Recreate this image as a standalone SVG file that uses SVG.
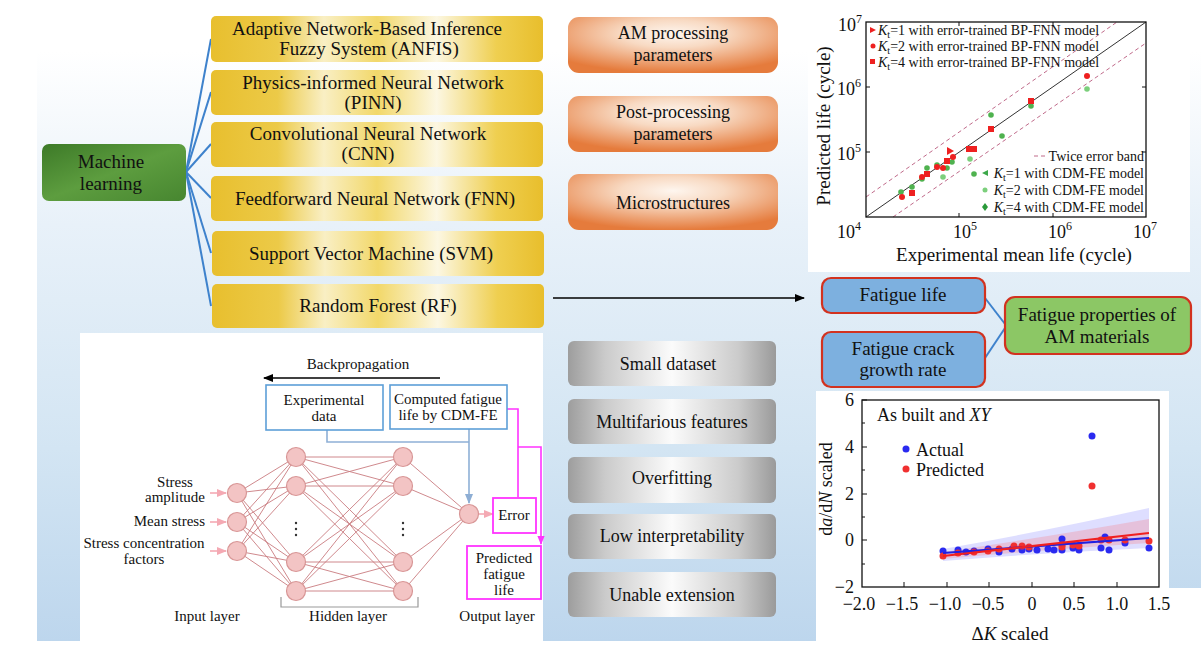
<svg xmlns="http://www.w3.org/2000/svg" width="1201" height="652" viewBox="0 0 1201 652">
<defs>
<linearGradient id="bg" x1="0" y1="0" x2="0" y2="1">
<stop offset="0" stop-color="#ffffff"/><stop offset="0.08" stop-color="#ffffff"/><stop offset="0.35" stop-color="#e8f1f9"/><stop offset="0.7" stop-color="#d3e5f3"/><stop offset="1" stop-color="#bdd6ed"/>
</linearGradient>
<linearGradient id="yel" x1="0" y1="0" x2="1" y2="0">
<stop offset="0" stop-color="#e8bf2e"/><stop offset="0.2" stop-color="#ecca48"/><stop offset="0.34" stop-color="#f9efc4"/><stop offset="0.5" stop-color="#f2d86a"/><stop offset="0.68" stop-color="#fcf7e2"/><stop offset="0.86" stop-color="#efcf50"/><stop offset="1" stop-color="#e8be2c"/>
</linearGradient>
<linearGradient id="grn" x1="0" y1="0" x2="1" y2="1">
<stop offset="0" stop-color="#3d7a28"/><stop offset="0.5" stop-color="#5d9d3f"/><stop offset="1" stop-color="#478630"/>
</linearGradient>
<radialGradient id="org" cx="0.5" cy="0.3" r="0.7">
<stop offset="0" stop-color="#fef6ef"/><stop offset="0.35" stop-color="#f8dac3"/><stop offset="1" stop-color="#e57b3c"/>
</radialGradient>
<linearGradient id="gry" x1="0" y1="0" x2="1" y2="0">
<stop offset="0" stop-color="#9d9d9d"/><stop offset="0.18" stop-color="#cbcbcb"/><stop offset="0.5" stop-color="#fbfbfb"/><stop offset="0.82" stop-color="#cbcbcb"/><stop offset="1" stop-color="#9a9a9a"/>
</linearGradient>
<marker id="ab" viewBox="0 0 10 10" refX="9" refY="5" markerWidth="10" markerHeight="10" markerUnits="userSpaceOnUse" orient="auto"><path d="M0,1 L10,5 L0,9 Z" fill="#000"/></marker>
<marker id="ap" viewBox="0 0 10 10" refX="9" refY="5" markerWidth="12" markerHeight="10" markerUnits="userSpaceOnUse" orient="auto"><path d="M0,1 L10,5 L0,9 Z" fill="#f4a9b3"/></marker>
<marker id="abl" viewBox="0 0 10 10" refX="9" refY="5" markerWidth="14" markerHeight="10" markerUnits="userSpaceOnUse" orient="auto"><path d="M0,1 L10,5 L0,9 Z" fill="#8eaed4"/></marker>
<marker id="am" viewBox="0 0 10 10" refX="9" refY="5" markerWidth="12" markerHeight="9" markerUnits="userSpaceOnUse" orient="auto"><path d="M0,1 L10,5 L0,9 Z" fill="#ff33ff"/></marker>
<style>
text{font-family:"Liberation Serif","Times New Roman",serif;fill:#111}
.t19{font-size:19px}
.t18{font-size:18px}
.t15{font-size:15px}
.t14{font-size:14px}
.mid{text-anchor:middle}
.end{text-anchor:end}
.ybox{fill:url(#yel)}
.obox{fill:url(#org)}
.gbox{fill:url(#gry)}
.fbox{fill:#7db0df;stroke:#d2321f;stroke-width:2.2}
.nn line{stroke:#c97c80;stroke-width:0.9}
.node{fill:#f3c4c4;stroke:#d89696;stroke-width:1.2}
.bl{fill:none;stroke:#8eb0d6;stroke-width:1.6}
.mg{fill:none;stroke:#ff33ff;stroke-width:1.6}
.frame{fill:none;stroke:#111;stroke-width:1.3}
.tick{stroke:#111;stroke-width:1}
</style>
</defs>

<!-- background -->
<rect x="37" y="0" width="1164" height="641" fill="url(#bg)"/>
<rect x="808" y="0" width="382" height="272" fill="#fff"/>
<rect x="80" y="333" width="463" height="308" fill="#fff"/>
<rect x="816" y="391" width="353" height="261" fill="#fff"/>
<rect x="1169" y="588" width="32" height="64" fill="#fff"/>

<!-- connectors -->
<g id="connectors">
<g stroke="#3e82cc" stroke-width="2" fill="none">
<line x1="186" y1="172" x2="211" y2="39"/>
<line x1="186" y1="172" x2="211" y2="92"/>
<line x1="186" y1="172" x2="211" y2="144"/>
<line x1="186" y1="172" x2="211" y2="198"/>
<line x1="186" y1="172" x2="211" y2="253"/>
<line x1="186" y1="172" x2="211" y2="306"/>
<line x1="985" y1="298" x2="1005" y2="324"/>
<line x1="985" y1="358" x2="1005" y2="328"/>
</g>
<line x1="553" y1="298" x2="804" y2="298" stroke="#000" stroke-width="1.4" marker-end="url(#ab)"/>
</g>

<!-- machine learning -->
<g id="ml">
<rect x="42" y="144" width="144" height="57" rx="7" fill="url(#grn)"/>
<text class="t19 mid" x="111" y="168">Machine</text>
<text class="t19 mid" x="111" y="190">learning</text>
</g>
<g id="anfis"><rect class="ybox" x="211" y="16" width="332" height="46" rx="5"/>
<text class="t19 mid" x="367" y="35">Adaptive Network-Based Inference</text>
<text class="t19 mid" x="369" y="55">Fuzzy System (ANFIS)</text></g>
<g id="pinn"><rect class="ybox" x="211" y="70" width="332" height="45" rx="5"/>
<text class="t19 mid" x="373" y="89">Physics-informed Neural Network</text>
<text class="t19 mid" x="373" y="109">(PINN)</text></g>
<g id="cnn"><rect class="ybox" x="211" y="122" width="332" height="45" rx="5"/>
<text class="t19 mid" x="368" y="140">Convolutional Neural Network</text>
<text class="t19 mid" x="368" y="160">(CNN)</text></g>
<g id="fnn"><rect class="ybox" x="211" y="176" width="332" height="45" rx="5"/>
<text class="t19 mid" x="375" y="205">Feedforward Neural Network (FNN)</text></g>
<g id="svm"><rect class="ybox" x="212" y="231" width="332" height="45" rx="5"/>
<text class="t19 mid" x="371" y="260">Support Vector Machine (SVM)</text></g>
<g id="rf"><rect class="ybox" x="212" y="284" width="332" height="44" rx="5"/>
<text class="t19 mid" x="378" y="312">Random Forest (RF)</text></g>

<!-- orange -->
<g id="am-proc"><rect class="obox" x="568" y="17" width="210" height="56" rx="11"/>
<text class="t18 mid" x="673" y="39">AM processing</text>
<text class="t18 mid" x="673" y="61">parameters</text></g>
<g id="post-proc"><rect class="obox" x="568" y="96" width="210" height="56" rx="11"/>
<text class="t18 mid" x="673" y="118">Post-processing</text>
<text class="t18 mid" x="673" y="140">parameters</text></g>
<g id="micro"><rect class="obox" x="568" y="174" width="210" height="56" rx="11"/>
<text class="t18 mid" x="673" y="209">Microstructures</text></g>

<!-- gray -->
<g id="small"><rect class="gbox" x="568" y="341" width="208" height="45" rx="6"/>
<text class="t18 mid" x="668" y="370">Small dataset</text></g>
<g id="multi"><rect class="gbox" x="568" y="399" width="208" height="45" rx="6"/>
<text class="t18 mid" x="672" y="428">Multifarious features</text></g>
<g id="overfit"><rect class="gbox" x="568" y="457" width="208" height="46" rx="6"/>
<text class="t18 mid" x="672" y="484">Overfitting</text></g>
<g id="lowint"><rect class="gbox" x="568" y="514" width="208" height="45" rx="6"/>
<text class="t18 mid" x="672" y="542">Low interpretability</text></g>
<g id="unable"><rect class="gbox" x="568" y="572" width="208" height="45" rx="6"/>
<text class="t18 mid" x="672" y="601">Unable extension</text></g>

<!-- fatigue -->
<g id="flife"><rect class="fbox" x="822" y="278" width="163" height="35" rx="9"/>
<text class="t19 mid" x="903" y="301">Fatigue life</text></g>
<g id="fcgr"><rect class="fbox" x="822" y="332" width="163" height="55" rx="9"/>
<text class="t19 mid" x="903" y="355">Fatigue crack</text>
<text class="t19 mid" x="903" y="376">growth rate</text></g>
<g id="fprop"><rect x="1005" y="297" width="186" height="57" rx="10" fill="#8cc765" stroke="#d2321f" stroke-width="2.2"/>
<text class="t19 mid" x="1097" y="321">Fatigue properties of</text>
<text class="t19 mid" x="1097" y="343">AM materials</text></g>

<!-- plot 1 -->
<g id="plot1">
<line x1="866" y1="217" x2="1146" y2="22" stroke="#333" stroke-width="1"/>
<g stroke="#c06a8a" stroke-width="1" stroke-dasharray="4,3">
<line x1="866" y1="197" x2="1117" y2="22"/>
<line x1="893" y1="217" x2="1146" y2="43"/>
</g>
<rect class="frame" x="866" y="22" width="280" height="195"/>
<g class="tick">
<line x1="866" y1="87" x2="870" y2="87"/><line x1="866" y1="152" x2="870" y2="152"/>
<line x1="1146" y1="87" x2="1142" y2="87"/><line x1="1146" y1="152" x2="1142" y2="152"/>
<line x1="959" y1="217" x2="959" y2="213"/><line x1="1053" y1="217" x2="1053" y2="213"/>
<line x1="959" y1="22" x2="959" y2="26"/><line x1="1053" y1="22" x2="1053" y2="26"/>
</g>
<!-- green data -->
<g fill="#4fb24f">
<circle cx="901" cy="192" r="2.8"/><circle cx="912" cy="187" r="2.8"/><circle cx="922" cy="179" r="2.8"/>
<circle cx="927" cy="168" r="2.8"/><circle cx="937" cy="165" r="2.8"/><circle cx="943" cy="177" r="2.8" fill="#7ccf7c"/>
<circle cx="947" cy="168" r="2.8"/><circle cx="952" cy="162" r="2.8"/><circle cx="970" cy="159" r="2.8" fill="#7ccf7c"/>
<circle cx="974" cy="174" r="2.8"/><circle cx="991" cy="115" r="2.8"/><circle cx="1002" cy="136" r="2.8"/>
<circle cx="1031" cy="106" r="2.8"/><circle cx="1087" cy="89" r="2.8" fill="#7ccf7c"/>
</g>
<!-- red data -->
<g fill="#ee2020">
<circle cx="902" cy="197" r="3"/><rect x="909" y="190" width="6" height="6"/><circle cx="922" cy="177" r="3"/>
<rect x="924" y="171" width="6" height="6"/><circle cx="937" cy="167" r="3"/><circle cx="943" cy="168" r="3"/>
<rect x="944" y="158" width="6" height="6"/><path d="M947,147 L954,151 L947,155 Z"/><circle cx="953" cy="157" r="3"/>
<rect x="966" y="146" width="6" height="6"/><rect x="971" y="146" width="6" height="6"/><rect x="988" y="126" width="6" height="6"/>
<rect x="1028" y="98" width="6" height="6"/><circle cx="1087" cy="76" r="3"/>
</g>
<!-- legend -->
<path d="M870,27 L876,30 L870,33 Z" fill="#ee2020"/>
<circle cx="873" cy="46" r="2.5" fill="#ee2020"/>
<rect x="870" y="59" width="5" height="5" fill="#ee2020"/>
<text class="t14" x="878" y="35"><tspan font-style="italic">K</tspan><tspan font-size="10" dy="3">t</tspan><tspan dy="-3">=1 with error-trained BP-FNN model</tspan></text>
<text class="t14" x="878" y="51"><tspan font-style="italic">K</tspan><tspan font-size="10" dy="3">t</tspan><tspan dy="-3">=2 with error-trained BP-FNN model</tspan></text>
<text class="t14" x="878" y="67"><tspan font-style="italic">K</tspan><tspan font-size="10" dy="3">t</tspan><tspan dy="-3">=4 with error-trained BP-FNN model</tspan></text>
<line x1="1034" y1="156" x2="1047" y2="156" stroke="#c06a8a" stroke-width="1" stroke-dasharray="4,3"/>
<text class="t14 end" x="1144" y="161">Twice error band</text>
<path d="M982,173 L988,170 L988,176 Z" fill="#3da84a"/>
<circle cx="985" cy="190" r="2.5" fill="#7ccf7c"/>
<path d="M985,203 L988,207 L985,211 L982,207 Z" fill="#2a9a3a"/>
<text class="t14 end" x="1144" y="178"><tspan font-style="italic">K</tspan><tspan font-size="10" dy="3">t</tspan><tspan dy="-3">=1 with CDM-FE model</tspan></text>
<text class="t14 end" x="1144" y="195"><tspan font-style="italic">K</tspan><tspan font-size="10" dy="3">t</tspan><tspan dy="-3">=2 with CDM-FE model</tspan></text>
<text class="t14 end" x="1144" y="212"><tspan font-style="italic">K</tspan><tspan font-size="10" dy="3">t</tspan><tspan dy="-3">=4 with CDM-FE model</tspan></text>
<!-- axes labels -->
<text class="t18 end" x="862" y="31">10<tspan font-size="12" dy="-8">7</tspan></text>
<text class="t18 end" x="861" y="95">10<tspan font-size="12" dy="-8">6</tspan></text>
<text class="t18 end" x="861" y="160">10<tspan font-size="12" dy="-8">5</tspan></text>
<text class="t18" x="837" y="238">10<tspan font-size="12" dy="-8">4</tspan></text>
<text class="t18" x="953" y="238">10<tspan font-size="12" dy="-8">5</tspan></text>
<text class="t18" x="1048" y="238">10<tspan font-size="12" dy="-8">6</tspan></text>
<text class="t18" x="1133" y="238">10<tspan font-size="12" dy="-8">7</tspan></text>
<text class="t19 mid" x="1014" y="261">Experimental mean life (cycle)</text>
<text class="t19 mid" transform="translate(830,126) rotate(-90)">Predicted life (cycle)</text>
</g>

<!-- plot 2 -->
<g id="plot2">
<path d="M943,549 Q1040,532 1149,508 L1149,548 Q1040,553 943,561 Z" fill="#6b6bff" fill-opacity="0.22"/>
<path d="M943,552 Q1040,538 1149,519 L1149,543 Q1040,550 943,559 Z" fill="#ff5a5a" fill-opacity="0.22"/>
<rect class="frame" x="862" y="400" width="297" height="187"/>
<g class="tick">
<line x1="862" y1="400" x2="867" y2="400"/><line x1="862" y1="423" x2="865" y2="423"/>
<line x1="862" y1="447" x2="867" y2="447"/><line x1="862" y1="470" x2="865" y2="470"/>
<line x1="862" y1="494" x2="867" y2="494"/><line x1="862" y1="517" x2="865" y2="517"/>
<line x1="862" y1="540" x2="867" y2="540"/><line x1="862" y1="564" x2="865" y2="564"/>
<line x1="904" y1="587" x2="904" y2="582"/><line x1="947" y1="587" x2="947" y2="582"/>
<line x1="989" y1="587" x2="989" y2="582"/><line x1="1032" y1="587" x2="1032" y2="582"/>
<line x1="1074" y1="587" x2="1074" y2="582"/><line x1="1117" y1="587" x2="1117" y2="582"/>
</g>
<g fill="#2a2af0">
<circle cx="943" cy="551" r="3.5"/><circle cx="958" cy="550" r="3.5"/><circle cx="966" cy="552" r="3.5"/>
<circle cx="974" cy="551" r="3.5"/><circle cx="988" cy="549" r="3.5"/><circle cx="999" cy="552" r="3.5"/>
<circle cx="1012" cy="549" r="3.5"/><circle cx="1022" cy="550" r="3.5"/><circle cx="1029" cy="549" r="3.5"/>
<circle cx="1037" cy="550" r="3.5"/><circle cx="1048" cy="549" r="3.5"/><circle cx="1054" cy="550" r="3.5"/>
<circle cx="1062" cy="539" r="3.5"/><circle cx="1062" cy="550" r="3.5"/><circle cx="1073" cy="548" r="3.5"/>
<circle cx="1079" cy="550" r="3.5"/><circle cx="1101" cy="548" r="3.5"/><circle cx="1105" cy="537" r="3.5"/>
<circle cx="1109" cy="550" r="3.5"/><circle cx="1125" cy="543" r="3.5"/><circle cx="1149" cy="548" r="3.5"/>
<circle cx="1092" cy="436" r="3.5"/>
</g>
<g fill="#f03030">
<circle cx="943" cy="556" r="3.5"/><circle cx="958" cy="553" r="3.5"/><circle cx="974" cy="552" r="3.5"/>
<circle cx="988" cy="551" r="3.5"/><circle cx="999" cy="549" r="3.5"/><circle cx="1014" cy="546" r="3.5"/>
<circle cx="1022" cy="546" r="3.5"/><circle cx="1029" cy="547" r="3.5"/><circle cx="1062" cy="545" r="3.5"/>
<circle cx="1062" cy="547" r="3.5"/><circle cx="1073" cy="545" r="3.5"/><circle cx="1079" cy="546" r="3.5"/>
<circle cx="1101" cy="540" r="3.5"/><circle cx="1109" cy="540" r="3.5"/><circle cx="1125" cy="540" r="3.5"/>
<circle cx="1149" cy="541" r="3.5"/><circle cx="1092" cy="486" r="3.5"/>
</g>
<line x1="943" y1="553" x2="1149" y2="538" stroke="#2020e0" stroke-width="2.2"/>
<line x1="943" y1="556" x2="1149" y2="533" stroke="#f02020" stroke-width="2.2"/>
<text class="t18" x="877" y="421">As built and <tspan font-style="italic">XY</tspan></text>
<circle cx="906" cy="449" r="3.5" fill="#2a2af0"/>
<text class="t18" x="916" y="456">Actual</text>
<circle cx="906" cy="469" r="3.5" fill="#f03030"/>
<text class="t18" x="916" y="476">Predicted</text>
<text class="t18 end" x="854" y="406">6</text>
<text class="t18 end" x="854" y="453">4</text>
<text class="t18 end" x="854" y="500">2</text>
<text class="t18 end" x="854" y="546">0</text>
<text class="t18 end" x="854" y="593">−2</text>
<text class="t18 mid" x="859" y="610">−2.0</text>
<text class="t18 mid" x="902" y="610">−1.5</text>
<text class="t18 mid" x="945" y="610">−1.0</text>
<text class="t18 mid" x="988" y="610">−0.5</text>
<text class="t18 mid" x="1032" y="610">0</text>
<text class="t18 mid" x="1074" y="610">0.5</text>
<text class="t18 mid" x="1117" y="610">1.0</text>
<text class="t18 mid" x="1159" y="610">1.5</text>
<text class="t19 mid" x="1010" y="640">Δ<tspan font-style="italic">K</tspan> scaled</text>
<text class="t18 mid" transform="translate(832,489) rotate(-90)">d<tspan font-style="italic">a</tspan>/d<tspan font-style="italic">N</tspan> scaled</text>
</g>

<!-- neural network -->
<g id="nn">
<g class="nn">
<line x1="237" y1="493" x2="296" y2="457"/><line x1="237" y1="493" x2="296" y2="486"/><line x1="237" y1="493" x2="296" y2="562"/><line x1="237" y1="493" x2="296" y2="591"/>
<line x1="237" y1="522" x2="296" y2="457"/><line x1="237" y1="522" x2="296" y2="486"/><line x1="237" y1="522" x2="296" y2="562"/><line x1="237" y1="522" x2="296" y2="591"/>
<line x1="237" y1="551" x2="296" y2="457"/><line x1="237" y1="551" x2="296" y2="486"/><line x1="237" y1="551" x2="296" y2="562"/><line x1="237" y1="551" x2="296" y2="591"/>
<line x1="296" y1="457" x2="403" y2="457"/><line x1="296" y1="457" x2="403" y2="486"/><line x1="296" y1="457" x2="403" y2="562"/><line x1="296" y1="457" x2="403" y2="591"/>
<line x1="296" y1="486" x2="403" y2="457"/><line x1="296" y1="486" x2="403" y2="486"/><line x1="296" y1="486" x2="403" y2="562"/><line x1="296" y1="486" x2="403" y2="591"/>
<line x1="296" y1="562" x2="403" y2="457"/><line x1="296" y1="562" x2="403" y2="486"/><line x1="296" y1="562" x2="403" y2="562"/><line x1="296" y1="562" x2="403" y2="591"/>
<line x1="296" y1="591" x2="403" y2="457"/><line x1="296" y1="591" x2="403" y2="486"/><line x1="296" y1="591" x2="403" y2="562"/><line x1="296" y1="591" x2="403" y2="591"/>
<line x1="403" y1="457" x2="469" y2="514"/><line x1="403" y1="486" x2="469" y2="514"/><line x1="403" y1="562" x2="469" y2="514"/><line x1="403" y1="591" x2="469" y2="514"/>
</g>
<g class="node">
<circle cx="237" cy="493" r="9.5"/><circle cx="237" cy="522" r="9.5"/><circle cx="237" cy="551" r="9.5"/>
<circle cx="296" cy="457" r="9.5"/><circle cx="296" cy="486" r="9.5"/><circle cx="296" cy="562" r="9.5"/><circle cx="296" cy="591" r="9.5"/>
<circle cx="403" cy="457" r="9.5"/><circle cx="403" cy="486" r="9.5"/><circle cx="403" cy="562" r="9.5"/><circle cx="403" cy="591" r="9.5"/>
<circle cx="469" cy="514" r="9.5"/>
</g>
<g fill="#333">
<circle cx="296" cy="523" r="1.2"/><circle cx="296" cy="529" r="1.2"/><circle cx="296" cy="535" r="1.2"/>
<circle cx="403" cy="523" r="1.2"/><circle cx="403" cy="529" r="1.2"/><circle cx="403" cy="535" r="1.2"/>
</g>
<g stroke="#f4a9b3" stroke-width="1.6">
<line x1="210" y1="493" x2="226" y2="493" marker-end="url(#ap)"/>
<line x1="210" y1="522" x2="226" y2="522" marker-end="url(#ap)"/>
<line x1="210" y1="551" x2="226" y2="551" marker-end="url(#ap)"/>
<line x1="479" y1="514" x2="493" y2="514" marker-end="url(#ap)"/>
</g>
<path d="M281,597 V607 H418 V597" fill="none" stroke="#999" stroke-width="1.2"/>
<line x1="440" y1="378" x2="264" y2="378" stroke="#000" stroke-width="1.5" marker-end="url(#ab)"/>
<text class="t15 mid" x="358" y="369">Backpropagation</text>
<path class="bl" d="M327,430 V442 H469"/>
<path class="bl" d="M469,429 V503" marker-end="url(#abl)"/>
<path class="mg" d="M507,409 H518 V497"/>
<path class="mg" d="M518,447 H541 V544" marker-end="url(#am)"/>
<text class="t15 mid" x="175" y="487">Stress</text>
<text class="t15 mid" x="175" y="502">amplitude</text>
<text class="t15 end" x="205" y="526">Mean stress</text>
<text class="t15 mid" x="144" y="548">Stress concentration</text>
<text class="t15 mid" x="144" y="564">factors</text>
<text class="t15 mid" x="207" y="621">Input layer</text>
<text class="t15 mid" x="348" y="621">Hidden layer</text>
<text class="t15 mid" x="497" y="621">Output layer</text>
</g>
<g id="expdata"><rect x="266" y="385" width="117" height="45" fill="#fff" stroke="#5d9fd8" stroke-width="1.6"/>
<text class="t15 mid" x="324" y="405">Experimental</text>
<text class="t15 mid" x="324" y="421">data</text></g>
<g id="computed"><rect x="390" y="385" width="117" height="44" fill="#fff" stroke="#5d9fd8" stroke-width="1.6"/>
<text class="t15 mid" x="448" y="404">Computed fatigue</text>
<text class="t15 mid" x="448" y="420">life by CDM-FE</text></g>
<g id="error"><rect x="493" y="498" width="43" height="35" fill="#fff" stroke="#ff33ff" stroke-width="1.8"/>
<text class="t15 mid" x="514" y="520">Error</text></g>
<g id="predlife"><rect x="467" y="546" width="74" height="53" fill="#fff" stroke="#ff33ff" stroke-width="1.8"/>
<text class="t15 mid" x="504" y="563">Predicted</text>
<text class="t15 mid" x="504" y="579">fatigue</text>
<text class="t15 mid" x="504" y="595">life</text></g>
</svg>
